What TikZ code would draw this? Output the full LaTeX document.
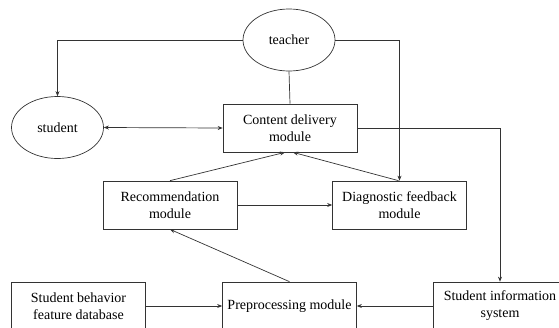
\documentclass[tikz,border=0pt]{standalone}
\usepackage{fontspec}
\setmainfont{Liberation Serif}
\usetikzlibrary{shapes.geometric,arrows.meta,calc}
\begin{document}
\begin{tikzpicture}[x=1pt,y=-1pt,
  every node/.style={font=\fontsize{14}{17}\selectfont},
  box/.style={draw=black!80,line width=0.7pt,rectangle,minimum width=134pt,minimum height=48pt,inner sep=0pt,align=center},
  oval/.style={draw=black!80,line width=0.7pt,ellipse,minimum width=92pt,minimum height=62pt,inner sep=0pt},
  conn/.style={draw=black!80,line width=0.7pt},
  arr/.style={conn,-{Stealth[length=5pt,width=4pt]}},
  darr/.style={conn,{Stealth[length=5pt,width=4pt]}-{Stealth[length=5pt,width=4pt]}}]
\useasboundingbox (0,0) rectangle (559,327);
\node[oval] (teacher) at (289,40) {teacher};
\node[oval] (student) at (57.5,127.5) {student};
\node[box] (content) at (290,128) {Content delivery\\module};
\node[box] (rec) at (170,205) {Recommendation\\module};
\node[box] (diag) at (399.5,205) {Diagnostic feedback\\module};
\node[box] (behav) at (78.5,306) {Student behavior\\feature database};
\node[box] (pre) at (289.5,306) {Preprocessing module};
\node[box] (info) at (500,306) {Student information\\system};
\coordinate (cL) at ($(content.south)+(-5,0)$);
\coordinate (cR) at ($(content.south)+(3,0)$);
\draw[arr] (teacher.west) -| (student.north);
\draw[conn] (teacher.south) -- (content.north);
\draw[arr] (teacher.east) -| (diag.north);
\draw[arr] (content.east) -| (info.north);
\draw[darr] (student.east) -- (content.west);
\draw[arr] (rec.north) -- (cL);
\draw[arr] ($(diag.north)+(-1,0)$) -- (cR);
\draw[arr] (rec.east) -- (diag.west);
\draw[arr] (pre.north) -- (rec.south);
\draw[arr] (behav.east) -- (pre.west);
\draw[arr] (info.west) -- (pre.east);
\end{tikzpicture}
\end{document}
